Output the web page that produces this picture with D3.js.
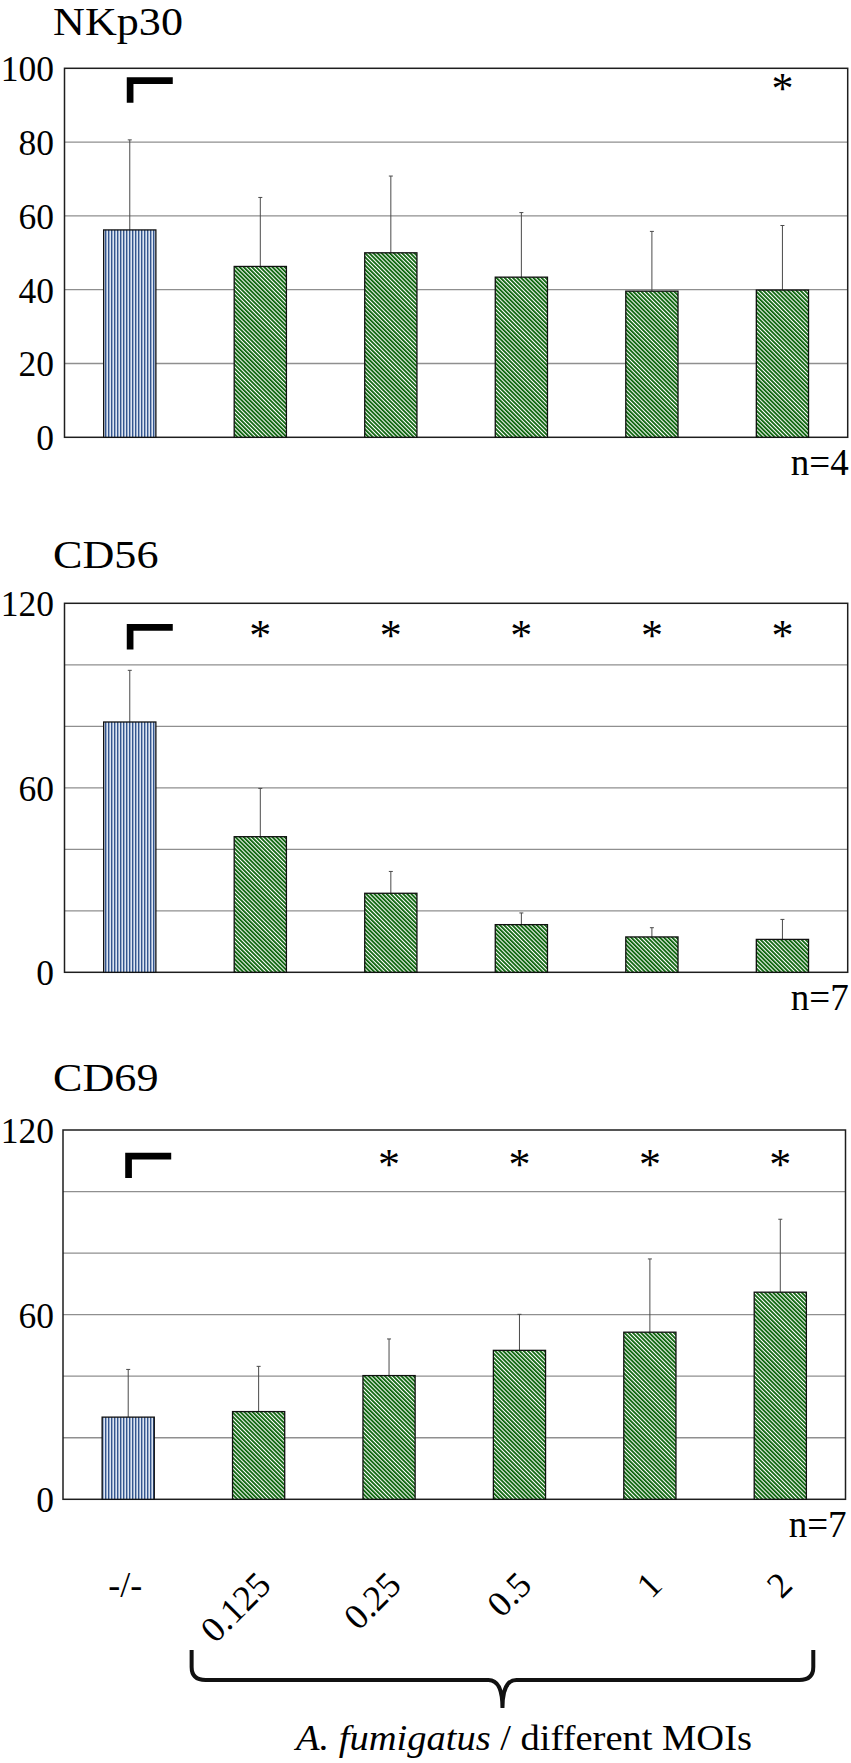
<!DOCTYPE html>
<html>
<head>
<meta charset="utf-8">
<script src="https://cdn.jsdelivr.net/npm/d3@7"></script>
<style>
  html, body { margin: 0; padding: 0; background: #fff; }
  svg { display: block; }
</style>
</head>
<body>
<svg id="chart" width="851" height="1763"></svg>
<script>
// ---------------- DATA ----------------
const categories = ["-/-", "0.125", "0.25", "0.5", "1", "2"];

const nkp30Values = [56.2, 46.3, 50.0, 43.4, 39.6, 39.9];
const nkp30Errors = [24.4, 18.7, 20.8, 17.5, 16.2, 17.5];
const nkp30Sig    = [false, false, false, false, false, true];
const nkp30Ticks  = [0, 20, 40, 60, 80, 100];
const nkp30Labels = [0, 20, 40, 60, 80, 100];

const cd56Values = [81.4, 44.1, 25.7, 15.5, 11.5, 10.7];
const cd56Errors = [16.8, 15.7, 7.1, 3.8, 3.0, 6.5];
const cd56Sig    = [false, true, true, true, true, true];
const cd56Ticks  = [0, 20, 40, 60, 80, 100, 120];
const cd56Labels = [0, 60, 120];

const cd69Values = [26.7, 28.5, 40.2, 48.4, 54.3, 67.3];
const cd69Errors = [15.5, 14.7, 11.9, 11.7, 23.8, 23.7];
const cd69Sig    = [false, false, true, true, true, true];
const cd69Ticks  = [0, 20, 40, 60, 80, 100, 120];
const cd69Labels = [0, 60, 120];

const panelTitles = ["NKp30", "CD56", "CD69"];
const nLabels = ["n=4", "n=7", "n=7"];
const groupLabelItalic = "A. fumigatus";
const groupLabelRest = " / different MOIs";

// ---------------- LAYOUT ----------------
const SERIF = '"Liberation Serif", serif';
const panels = [
  { title: panelTitles[0], values: nkp30Values, errors: nkp30Errors, sig: nkp30Sig, ticks: nkp30Ticks, labels: nkp30Labels, max: 100, n: nLabels[0],
    left: 64.5, right: 847.7, top: 68.3, bottom: 437.3, titleY: 35, markOff: 9 },
  { title: panelTitles[1], values: cd56Values, errors: cd56Errors, sig: cd56Sig, ticks: cd56Ticks, labels: cd56Labels, max: 120, n: nLabels[1],
    left: 64.5, right: 847.7, top: 603.3, bottom: 972.3, titleY: 568.3, markOff: 20.7 },
  { title: panelTitles[2], values: cd69Values, errors: cd69Errors, sig: cd69Sig, ticks: cd69Ticks, labels: cd69Labels, max: 120, n: nLabels[2],
    left: 63, right: 845.5, top: 1130, bottom: 1499.3, titleY: 1090.5, markOff: 22.7 }
];

const svg = d3.select("#chart");
const defs = svg.append("defs");

// vertical blue stripes
const pb = defs.append("pattern").attr("id", "pblue")
  .attr("patternUnits", "userSpaceOnUse").attr("width", 3).attr("height", 10);
pb.append("rect").attr("width", 3).attr("height", 10).attr("fill", "#dde5f2");
pb.append("rect").attr("x", 0).attr("width", 1.4).attr("height", 10).attr("fill", "#34568f");

// diagonal green stripes (top-left to bottom-right)
const pg = defs.append("pattern").attr("id", "pgreen")
  .attr("patternUnits", "userSpaceOnUse").attr("width", 2.9).attr("height", 10)
  .attr("patternTransform", "rotate(-45)");
pg.append("rect").attr("width", 2.9).attr("height", 10).attr("fill", "#ffffff");
pg.append("rect").attr("x", 0).attr("width", 1.8).attr("height", 10).attr("fill", "#086208");

let lastX = null;

function T(sel) { return sel.attr("font-family", SERIF).style("font-family", SERIF).attr("fill", "#000"); }

panels.forEach((p, pi) => {
  const g = svg.append("g");
  const x = d3.scaleBand().domain(categories).range([p.left, p.right]).padding(0);
  const y = d3.scaleLinear().domain([0, p.max]).range([p.bottom, p.top]);
  const bw = x.bandwidth() * 0.4;
  lastX = x;

  // title
  T(g.append("text"))
    .attr("transform", `translate(53,${p.titleY}) scale(1.09,1)`)
    .attr("font-size", 40.5)
    .text(p.title);

  // grid lines
  g.selectAll("line.grid").data(p.ticks.filter(t => t > 0 && t < p.max)).enter()
    .append("line").attr("class", "grid")
    .attr("x1", p.left).attr("x2", p.right)
    .attr("y1", d => y(d)).attr("y2", d => y(d))
    .attr("stroke", "#8f8f8f").attr("stroke-width", 1.3);

  // y axis labels via d3 axis (ticks hidden)
  const yAxis = d3.axisLeft(y).tickValues(p.labels).tickSize(0).tickPadding(0).tickFormat(d3.format("d"));
  const ag = g.append("g").attr("transform", `translate(54,0)`).call(yAxis);
  ag.attr("font-family", SERIF).attr("font-size", 35.5);
  ag.select(".domain").remove();
  T(ag.selectAll("text")).attr("font-size", 35.5).attr("dy", "0.35em").attr("x", 0);

  // frame
  g.append("rect")
    .attr("x", p.left).attr("y", p.top)
    .attr("width", p.right - p.left).attr("height", p.bottom - p.top)
    .attr("fill", "none").attr("stroke", "#1e1e1e").attr("stroke-width", 1.5);

  // error bars
  const eg = g.append("g");
  categories.forEach((c, i) => {
    const cx = x(c) + x.bandwidth() / 2;
    const top = y(p.values[i] + p.errors[i]);
    eg.append("line").attr("x1", cx).attr("x2", cx)
      .attr("y1", y(p.values[i])).attr("y2", top)
      .attr("stroke", "#4a4a4a").attr("stroke-width", 1);
    eg.append("line").attr("x1", cx - 2).attr("x2", cx + 2)
      .attr("y1", top).attr("y2", top)
      .attr("stroke", "#4a4a4a").attr("stroke-width", 1);
  });

  // bars
  g.selectAll("rect.bar").data(categories).enter()
    .append("rect").attr("class", "bar")
    .attr("x", d => x(d) + (x.bandwidth() - bw) / 2)
    .attr("width", bw)
    .attr("y", (d, i) => y(p.values[i]))
    .attr("height", (d, i) => y(0) - y(p.values[i]))
    .attr("fill", (d, i) => i === 0 ? "url(#pblue)" : "url(#pgreen)")
    .attr("stroke", "#111").attr("stroke-width", 1.3);

  // reference marker (corner)
  const c0 = x(categories[0]) + x.bandwidth() / 2;
  const my = p.top + p.markOff;
  g.append("path")
    .attr("d", `M${c0 - 3},${my} H${c0 + 43} V${my + 6.7} H${c0 + 3.7} V${my + 25.4} H${c0 - 3} Z`)
    .attr("fill", "#000");

  // asterisks
  categories.forEach((c, i) => {
    if (!p.sig[i]) return;
    T(g.append("text"))
      .attr("x", x(c) + x.bandwidth() / 2)
      .attr("y", my + 26)
      .attr("text-anchor", "middle")
      .attr("font-size", 44)
      .text("*");
  });

  // n label
  T(g.append("text"))
    .attr("x", p.right + 1).attr("y", p.bottom + 37.7)
    .attr("text-anchor", "end")
    .attr("font-size", 37)
    .text(p.n);
});

// x category labels (below last panel)
const xl = lastX;
categories.forEach((c, i) => {
  const cx = xl(c) + xl.bandwidth() / 2;
  if (i === 0) {
    T(svg.append("text")).attr("x", cx - 3).attr("y", 1597)
      .attr("text-anchor", "middle").attr("font-size", 36).text(c);
  } else {
    T(svg.append("text"))
      .attr("transform", `translate(${cx + 14},1587) rotate(-45)`)
      .attr("text-anchor", "end").attr("font-size", 36).text(c);
  }
});

// brace under MOI categories
const bl = xl(categories[1]) + xl.bandwidth() / 2 - 67;
const br = xl(categories[5]) + xl.bandwidth() / 2 + 33;
const bm = (bl + br) / 2;
svg.append("path")
  .attr("d", `M${bl},1650 L${bl},1667 Q${bl},1680 ${bl + 14},1680 L${bm - 14},1680 Q${bm},1680 ${bm},1708 Q${bm},1680 ${bm + 14},1680 L${br - 14},1680 Q${br},1680 ${br},1667 L${br},1650`)
  .attr("fill", "none").attr("stroke", "#111").attr("stroke-width", 4);

// group label
const gt = T(svg.append("text")).attr("transform", "translate(296,1750) scale(1.07,1)").attr("font-size", 36);
gt.append("tspan").attr("font-style", "italic").text(groupLabelItalic);
gt.append("tspan").text(groupLabelRest);
</script>
</body>
</html>
